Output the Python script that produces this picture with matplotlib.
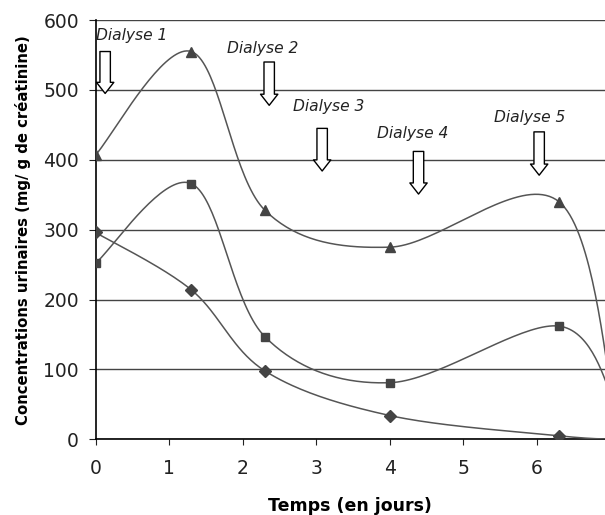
import numpy as np
import matplotlib.pyplot as plt

# Days and urinary concentrations (mg / g creatinine); last point lies past the visible edge
jours = np.array([0, 1.3, 2.3, 4.0, 6.3, 7.1])
triangles = np.array([407, 555, 328, 275, 340, 10])
carres = np.array([252, 366, 147, 81, 162, 40])
losanges = np.array([296, 214, 98, 34, 5, 0])

dialyses = ["Dialyse 1", "Dialyse 2", "Dialyse 3", "Dialyse 4", "Dialyse 5"]
dial_x = [0.13, 2.36, 3.08, 4.39, 6.03]
dial_top = [555, 540, 445, 412, 440]
dial_tip = [495, 478, 384, 351, 378]
label_pos = [(0.0, 578), (1.785, 560), (2.68, 477), (3.83, 438), (5.41, 461)]


def lissage(x, y, n=40):
    # Excel-like smoothed line (Catmull-Rom as cubic Bezier)
    px = np.concatenate([[x[0]], x, [x[-1]]])
    py = np.concatenate([[y[0]], y, [y[-1]]])
    t = np.linspace(0, 1, n)[:, None]
    xs, ys = [], []
    for i in range(1, len(px) - 2):
        p0 = np.array([px[i], py[i]])
        p3 = np.array([px[i + 1], py[i + 1]])
        c1 = p0 + (np.array([px[i + 1], py[i + 1]]) - np.array([px[i - 1], py[i - 1]])) / 6
        c2 = p3 - (np.array([px[i + 2], py[i + 2]]) - p0) / 6
        b = (1 - t) ** 3 * p0 + 3 * (1 - t) ** 2 * t * c1 + 3 * (1 - t) * t ** 2 * c2 + t ** 3 * p3
        xs.append(b[:, 0])
        ys.append(b[:, 1])
    return np.concatenate(xs), np.concatenate(ys)


fig = plt.figure(figsize=(6.05, 5.15), dpi=100)
ax = fig.add_axes([0.158, 0.147, 0.842, 0.814])

ligne = "#555555"
marque = "#444444"
for serie, m, ms in [(triangles, "^", 7), (carres, "s", 5.5), (losanges, "D", 6)]:
    xs, ys = lissage(jours, serie)
    ax.plot(xs, ys, color=ligne, lw=1.1, zorder=3)
    ax.plot(jours, serie, ls="none", marker=m, ms=ms, color=marque, zorder=4)

for nom, x, top, tip, (lx, ly) in zip(dialyses, dial_x, dial_top, dial_tip, label_pos):
    ax.annotate("", xy=(x, tip), xytext=(x, top),
                arrowprops=dict(arrowstyle="simple,head_length=0.8,head_width=1.25,tail_width=0.75",
                                mutation_scale=10, fc="white", ec="black", lw=1,
                                shrinkA=0, shrinkB=0), zorder=5)
    ax.text(lx, ly, nom, style="italic", fontsize=11.2, color="#222222",
            ha="left", va="center", zorder=5)

ax.set_xlim(0, 6.925)
ax.set_ylim(0, 600)
ax.set_xticks(range(7))
ax.set_yticks(range(0, 601, 100))
ax.yaxis.grid(True, color="#444444", lw=1)
ax.set_axisbelow(True)
for s in ["top", "right"]:
    ax.spines[s].set_visible(False)
ax.spines["left"].set_linewidth(1.2)
ax.spines["bottom"].set_linewidth(1.2)
ax.tick_params(axis="both", labelsize=13.5, colors="#222222", direction="out")
ax.tick_params(axis="y", length=5, pad=7)
ax.tick_params(axis="x", length=4, pad=10)

ax.set_xlabel("Temps (en jours)", fontsize=12.5, fontweight="bold", labelpad=14)
ax.set_ylabel("Concentrations urinaires (mg/ g de créatinine)", fontsize=10.7,
              fontweight="bold", labelpad=9)

fig.savefig("out.png", dpi=100)
